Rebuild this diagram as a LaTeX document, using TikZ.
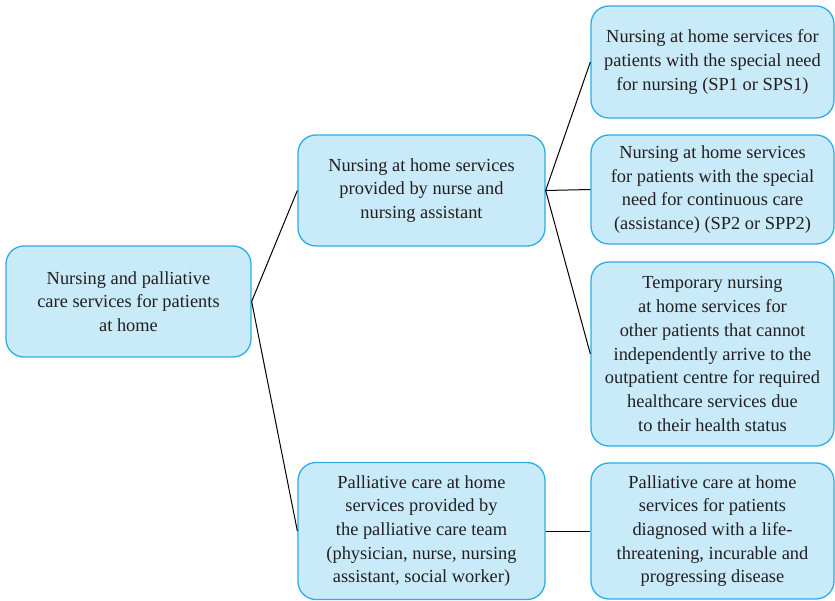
\documentclass[tikz,border=0pt]{standalone}
\usepackage{fontspec}
\setmainfont{Liberation Serif}
\definecolor{boxfill}{HTML}{C9EAF9}
\definecolor{boxline}{HTML}{2BAEE6}
\definecolor{txt}{HTML}{231F20}
\begin{document}
\begin{tikzpicture}[x=1pt,y=-1pt,
  box/.style={draw=boxline, line width=1.3pt, fill=boxfill, rounded corners=18pt,
    minimum width=#1, align=center, text=txt, inner sep=0pt,
    font=\fontsize{18.4}{23.7}\selectfont},
  box/.default=245pt,
  link/.style={draw=black, line width=1pt}]
\useasboundingbox (0,0) rectangle (835,601);

\node[box=245pt, minimum height=111pt] (root) at (128.5,301.5)
  {Nursing and palliative\\care services for patients\\at home};
\node[box=247pt, minimum height=111pt] (nurse) at (421.5,190.5)
  {Nursing at home services\\provided by nurse and\\nursing assistant};
\node[box=247pt, minimum height=137pt] (pall) at (421.5,531)
  {Palliative care at home\\services provided by\\the palliative care team\\(physician, nurse, nursing\\assistant, social worker)};
\node[box=243pt, minimum height=112pt] (sp1) at (712.5,62)
  {Nursing at home services for\\patients with the special need\\for nursing (SP1 or SPS1)};
\node[box=243pt, minimum height=109pt] (sp2) at (712.5,189.5)
  {Nursing at home services\\for patients with the special\\need for continuous care\\(assistance) (SP2 or SPP2)};
\node[box=243pt, minimum height=184pt] (temp) at (712.5,354)
  {Temporary nursing\\at home services for\\other patients that cannot\\independently arrive to the\\outpatient centre for required\\healthcare services due\\to their health status};
\node[box=243pt, minimum height=136pt] (life) at (712.5,531)
  {Palliative care at home\\services for patients\\diagnosed with a life-\\threatening, incurable and\\progressing disease};

\draw[link] (nurse.west) -- (root.east) -- (pall.west);
\draw[link] (sp1.west) -- (nurse.east) -- (temp.west);
\draw[link] (nurse.east) -- (sp2.west);
\draw[link] (pall.east) -- (life.west);
\end{tikzpicture}
\end{document}
